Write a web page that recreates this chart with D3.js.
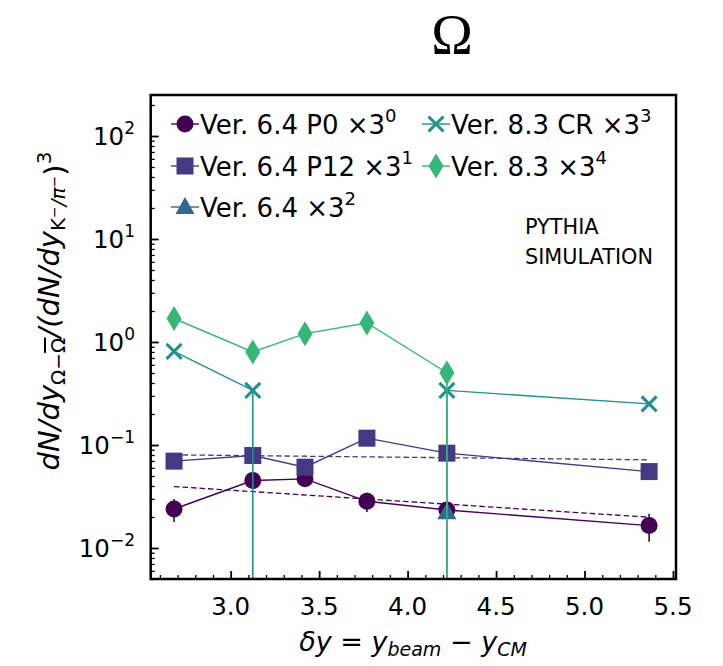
<!DOCTYPE html>
<html>
<head>
<meta charset="utf-8">
<script src="https://cdn.jsdelivr.net/npm/d3@7"></script>
<style>
  html, body { margin: 0; padding: 0; background: #fff; }
  svg { display: block; font-family: "DejaVu Sans", sans-serif; }
</style>
</head>
<body>
<svg id="chart" width="723" height="666"></svg>
<script>
// ---------------- data ----------------
const xTicks = [3.0, 3.5, 4.0, 4.5, 5.0, 5.5];
const yTickExps = [-2, -1, 0, 1, 2];

const p0X = [2.68, 3.125, 3.42, 3.77, 4.222, 5.365];
const p0Y = [0.0239, 0.0452, 0.0469, 0.0284, 0.0234, 0.0165];
const p0Err = [0.006, 0.002, 0.003, 0.006, 0.002, 0.005];

const p12X = [2.68, 3.125, 3.42, 3.77, 4.222, 5.365];
const p12Y = [0.0697, 0.079, 0.0609, 0.1165, 0.0833, 0.0552];

const v64X = [4.222];
const v64Y = [0.0222];

// missing values (null) break the line
const crX = [2.68, 3.125, 3.42, 3.77, 4.222, 5.365];
const crY = [0.81, 0.339, null, null, 0.339, 0.251];
const crErrLo = [0, 1, 0, 0, 1, 0];

const v83X = [2.68, 3.125, 3.42, 3.77, 4.222];
const v83Y = [1.69, 0.80, 1.205, 1.53, 0.503];
const v83ErrLo = [0, 0, 0, 0, 1];

const fitP0X = [2.68, 5.365];
const fitP0Y = [0.0395, 0.0199];
const fitP12X = [2.68, 5.365];
const fitP12Y = [0.0802, 0.0718];

const legendLabels = [
  ["Ver. 6.4 P0 ×3", "0"],
  ["Ver. 6.4 P12 ×3", "1"],
  ["Ver. 6.4 ×3", "2"],
  ["Ver. 8.3 CR ×3", "3"],
  ["Ver. 8.3 ×3", "4"]
];

// ---------------- layout ----------------
const L = 150.7, R = 676, T = 95, B = 579;
const colors = ["#440154", "#443983", "#31688e", "#21918c", "#35b779"];

const svg = d3.select("#chart");
const x = d3.scaleLinear().domain([2.548, 5.517]).range([L, R]);
const y = d3.scaleLog().domain([0.005, 250]).range([B, T]);

svg.append("defs").append("clipPath").attr("id", "clip")
  .append("rect").attr("x", L).attr("y", T).attr("width", R - L).attr("height", B - T);

const plot = svg.append("g").attr("clip-path", "url(#clip)");

// axes (ticks inward)
const xMinor = d3.range(26, 56).map(v => v / 10).filter(v => v >= 2.548 && v <= 5.517 && Math.abs(v * 2 - Math.round(v * 2)) > 1e-6);
const axG = svg.append("g");
axG.append("g").attr("transform", `translate(0,${B})`)
  .call(d3.axisTop(x).tickValues(xMinor).tickSize(4).tickFormat(""))
  .call(g => g.select(".domain").remove())
  .call(g => g.selectAll("line").attr("stroke", "#000").attr("stroke-width", 1.3));
axG.append("g").attr("transform", `translate(0,${B})`)
  .call(d3.axisTop(x).tickValues(xTicks).tickSize(8).tickFormat(""))
  .call(g => g.select(".domain").remove())
  .call(g => g.selectAll("line").attr("stroke", "#000").attr("stroke-width", 1.8));

const yMinor = [];
for (let e = -3; e <= 2; e++) for (let m = 2; m <= 9; m++) {
  const v = m * Math.pow(10, e);
  if (v >= 0.005 && v <= 250) yMinor.push(v);
}
axG.append("g").attr("transform", `translate(${L},0)`)
  .call(d3.axisRight(y).tickValues(yMinor).tickSize(4).tickFormat(""))
  .call(g => g.select(".domain").remove())
  .call(g => g.selectAll("line").attr("stroke", "#000").attr("stroke-width", 1.3));
axG.append("g").attr("transform", `translate(${L},0)`)
  .call(d3.axisRight(y).tickValues(yTickExps.map(e => Math.pow(10, e))).tickSize(8).tickFormat(""))
  .call(g => g.select(".domain").remove())
  .call(g => g.selectAll("line").attr("stroke", "#000").attr("stroke-width", 1.8));

// tick labels
svg.append("g").selectAll("text").data(xTicks).join("text")
  .attr("x", d => x(d)).attr("y", 615)
  .attr("text-anchor", "middle").attr("font-size", 24.5)
  .text(d => d.toFixed(1));

const yl = svg.append("g").selectAll("text").data(yTickExps).join("text")
  .attr("x", 135).attr("y", d => y(Math.pow(10, d)) + 9)
  .attr("text-anchor", "end").attr("font-size", 24.5);
yl.append("tspan").text("10");
yl.append("tspan").attr("dy", -11).attr("font-size", 17).text(d => d < 0 ? "\u2212" + (-d) : String(d));

// ---------------- marks ----------------
const line = d3.line().defined(d => d[1] != null).x(d => x(d[0])).y(d => y(d[1]));
const zip = (a, b) => a.map((v, i) => [v, b[i]]);
const yMinV = 0.005;

const diamondPath = (w, h) => `M0,${-h/2}L${w/2},0L0,${h/2}L${-w/2},0Z`;
const xPath = s => `M${-s},${-s}L${s},${s}M${-s},${s}L${s},${-s}`;

function drawMarker(g, kind, color) {
  if (kind === "circle") g.append("circle").attr("r", 8.5).attr("fill", color);
  else if (kind === "square") g.append("rect").attr("x", -8.5).attr("y", -8.5).attr("width", 17).attr("height", 17).attr("fill", color);
  else if (kind === "triangle") g.append("path").attr("d", `M0,-10L9.5,7L-9.5,7Z`).attr("fill", color);
  else if (kind === "x") g.append("path").attr("d", xPath(7.5)).attr("stroke", color).attr("stroke-width", 3).attr("fill", "none");
  else if (kind === "diamond") g.append("path").attr("d", diamondPath(15, 25)).attr("fill", color);
}

function drawSeries(xs, ys, color, kind, errLo, errHi) {
  const g = plot.append("g");
  g.append("path").datum(zip(xs, ys)).attr("d", line)
    .attr("fill", "none").attr("stroke", color).attr("stroke-width", 1.4);
  if (errLo) {
    xs.forEach((xv, i) => {
      if (ys[i] == null) return;
      if (errLo[i] === 0 && (!errHi || errHi[i] === 0)) return;
      const lo = ys[i] - errLo[i];
      const hi = ys[i] + (errHi ? errHi[i] : 0);
      g.append("line").attr("x1", x(xv)).attr("x2", x(xv))
        .attr("y1", y(hi)).attr("y2", lo > yMinV ? y(lo) : B + 5)
        .attr("stroke", color).attr("stroke-width", 1.6);
    });
  }
  xs.forEach((xv, i) => {
    if (ys[i] == null) return;
    const m = g.append("g").attr("transform", `translate(${x(xv)},${y(ys[i])})`);
    drawMarker(m, kind, color);
  });
}

// fit lines
plot.append("path").datum(zip(fitP0X, fitP0Y)).attr("d", line)
  .attr("fill", "none").attr("stroke", colors[0]).attr("stroke-width", 1.3).attr("stroke-dasharray", "5.5,3");
plot.append("path").datum(zip(fitP12X, fitP12Y)).attr("d", line)
  .attr("fill", "none").attr("stroke", colors[1]).attr("stroke-width", 1.3).attr("stroke-dasharray", "5.5,3");

drawSeries(p0X, p0Y, colors[0], "circle", p0Err, p0Err);
drawSeries(p12X, p12Y, colors[1], "square");
drawSeries(v64X, v64Y, colors[2], "triangle");
drawSeries(crX, crY, colors[3], "x", crErrLo, null);
drawSeries(v83X, v83Y, colors[4], "diamond", v83ErrLo, null);

// frame
svg.append("rect").attr("x", L).attr("y", T).attr("width", R - L).attr("height", B - T)
  .attr("fill", "none").attr("stroke", "#000").attr("stroke-width", 2.5);

// ---------------- legend ----------------
const kinds = ["circle", "square", "triangle", "x", "diamond"];
const legPos = [[171, 124], [171, 166], [171, 207], [422, 124], [422, 166]];
legendLabels.forEach((lab, i) => {
  const [lx, ly] = legPos[i];
  const g = svg.append("g");
  g.append("line").attr("x1", lx).attr("x2", lx + 28).attr("y1", ly).attr("y2", ly)
    .attr("stroke", colors[i]).attr("stroke-width", 1.4);
  drawMarker(g.append("g").attr("transform", `translate(${lx + 14},${ly})`), kinds[i], colors[i]);
  const t = g.append("text").attr("x", lx + 29).attr("y", ly + 9.5).attr("font-size", 26);
  t.append("tspan").text(lab[0]);
  t.append("tspan").attr("dy", -12).attr("font-size", 18).text(lab[1]);
});

// annotation
svg.append("text").attr("x", 525).attr("y", 234).attr("font-size", 20.8).text("PYTHIA");
svg.append("text").attr("x", 525).attr("y", 264).attr("font-size", 20.8).text("SIMULATION");

// title
svg.append("text").attr("x", 452).attr("y", 54).attr("text-anchor", "middle")
  .attr("font-family", "'Liberation Serif', 'DejaVu Serif', serif").attr("font-size", 56).text("Ω");

// x label
const xl = svg.append("text").attr("x", 413).attr("y", 651).attr("text-anchor", "middle").attr("font-size", 27);
xl.append("tspan").attr("font-style", "italic").text("δy");
xl.append("tspan").text(" = ");
xl.append("tspan").attr("font-style", "italic").text("y");
xl.append("tspan").attr("font-style", "italic").attr("font-size", 19).attr("dy", 5).text("beam");
xl.append("tspan").attr("dy", -5).text(" \u2212 ");
xl.append("tspan").attr("font-style", "italic").text("y");
xl.append("tspan").attr("font-style", "italic").attr("font-size", 19).attr("dy", 5).text("CM");

// y label
const ylab = svg.append("text").attr("transform", "translate(59,311) rotate(-90)")
  .attr("text-anchor", "middle").attr("font-size", 29);
ylab.append("tspan").attr("font-style", "italic").text("dN/dy");
ylab.append("tspan").attr("font-size", 20).attr("dy", 6).text("Ω\u2212");
ylab.append("tspan").attr("font-size", 20).style("text-decoration", "overline").text("Ω");
ylab.append("tspan").attr("dy", -6).attr("font-style", "italic").text("/(dN/dy");
ylab.append("tspan").attr("font-size", 20).attr("dy", 6).text("K");
ylab.append("tspan").attr("font-size", 14).attr("dy", -6).text("\u2212");
ylab.append("tspan").attr("font-size", 20).attr("dy", 6).attr("font-style", "italic").text("/π");
ylab.append("tspan").attr("font-size", 14).attr("dy", -6).text("\u2212");
ylab.append("tspan").attr("dy", 6).text(")");
ylab.append("tspan").attr("font-size", 20).attr("dy", -14).text("3");
</script>
</body>
</html>
